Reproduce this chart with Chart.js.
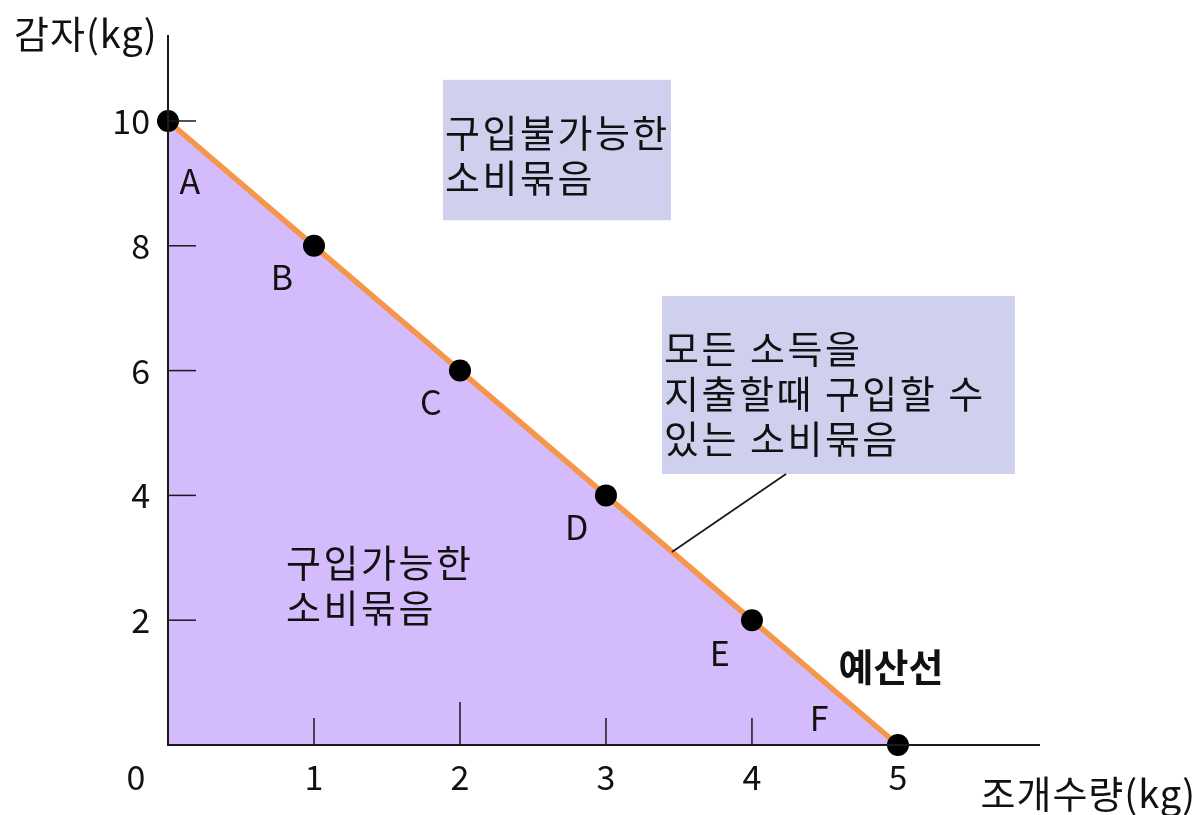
<!DOCTYPE html>
<html>
<head>
<meta charset="utf-8">
<script src="https://cdn.jsdelivr.net/npm/chart.js@4"></script>
<style>
  html, body { margin: 0; padding: 0; background: #fff; }
  #wrap { width: 1204px; height: 815px; }
</style>
</head>
<body>
<div id="wrap"><canvas id="budget"></canvas></div>
<script>
// data
const pointNames = ['A', 'B', 'C', 'D', 'E', 'F'];
const clamQty = [0, 1, 2, 3, 4, 5];      // 조개 (kg)
const potatoQty = [10, 8, 6, 4, 2, 0];   // 감자 (kg)
const xTicks = [1, 2, 3, 4];
const xLabels = [1, 2, 3, 4, 5];
const yTicks = [2, 4, 6, 8, 10];

// label offsets (data units) and text of notes
const nameOffsets = [[0.15, -0.97], [-0.22, -0.5], [-0.2, -0.5], [-0.2, -0.5], [-0.22, -0.52], [-0.54, 0.43]];
const notes = [
  { box: [1.884, 10.66, 3.445, 8.41], lines: ['구입불가능한', '소비묶음'] },
  { box: [3.384, 7.196, 5.801, 4.343], lines: ['모든 소득을', '지출할때 구입할 수', '있는 소비묶음'] },
  { box: [0.795, 3.766, 2.356, 1.603], lines: ['구입가능한', '소비묶음'] }
];

const FONT = "'Noto Sans CJK KR', 'Noto Sans', sans-serif";

const drawing = {
  id: 'drawing',
  beforeDatasetsDraw(chart) {
    const { ctx, scales: { x, y } } = chart;
    ctx.save();
    // note boxes behind the line
    ctx.fillStyle = '#cfcfee';
    notes.forEach(n => {
      const x0 = x.getPixelForValue(n.box[0]), y0 = y.getPixelForValue(n.box[1]);
      const x1 = x.getPixelForValue(n.box[2]), y1 = y.getPixelForValue(n.box[3]);
      ctx.fillRect(x0, y0, x1 - x0, y1 - y0);
    });
    ctx.restore();
  },
  afterDatasetsDraw(chart) {
    const { ctx, scales: { x, y } } = chart;
    const ox = x.getPixelForValue(0), oy = y.getPixelForValue(0);
    ctx.save();
    ctx.strokeStyle = '#1a1a1a';
    ctx.lineWidth = 2;
    ctx.beginPath();
    ctx.moveTo(ox, chart.chartArea.top);
    ctx.lineTo(ox, oy);
    ctx.lineTo(chart.chartArea.right, oy);
    ctx.stroke();

    // ticks pointing inward
    ctx.lineWidth = 1.5;
    xTicks.forEach(v => {
      const px = x.getPixelForValue(v);
      const len = v === 2 ? 43 : 27;
      ctx.beginPath(); ctx.moveTo(px, oy); ctx.lineTo(px, oy - len); ctx.stroke();
    });
    yTicks.forEach(v => {
      const py = y.getPixelForValue(v);
      ctx.beginPath(); ctx.moveTo(ox, py); ctx.lineTo(ox + 28, py); ctx.stroke();
    });

    // tick labels
    ctx.fillStyle = '#111';
    ctx.font = '34px ' + FONT;
    ctx.textBaseline = 'middle';
    ctx.textAlign = 'center';
    xLabels.forEach(v => ctx.fillText(String(v), x.getPixelForValue(v), oy + 32));
    ctx.fillText('0', ox - 32, oy + 32);
    ctx.textAlign = 'right';
    yTicks.forEach(v => ctx.fillText(String(v), ox - 18, y.getPixelForValue(v)));

    // axis titles
    ctx.font = '38px ' + FONT;
    ctx.letterSpacing = '1px';
    ctx.textAlign = 'left';
    ctx.fillText('감자(kg)', 14, 34);
    ctx.textAlign = 'right';
    ctx.fillText('조개수량(kg)', 1196, 794);

    // note text
    ctx.letterSpacing = '2.5px';
    ctx.textAlign = 'left';
    notes.forEach(n => {
      const x0 = x.getPixelForValue(n.box[0]);
      const y0 = y.getPixelForValue(n.box[1]);
      n.lines.forEach((t, i) => ctx.fillText(t, x0 + 2, y0 + 53 + i * 45));
    });
    ctx.letterSpacing = '0px';

    // leader line to the budget line
    ctx.lineWidth = 1.8;
    ctx.beginPath();
    ctx.moveTo(x.getPixelForValue(3.452), y.getPixelForValue(3.093));
    ctx.lineTo(x.getPixelForValue(4.233), y.getPixelForValue(4.343));
    ctx.stroke();

    ctx.font = 'bold 38px ' + FONT;
    ctx.textAlign = 'center';
    ctx.fillText('예산선', x.getPixelForValue(4.952), y.getPixelForValue(1.25));

    // point names
    ctx.font = '34px ' + FONT;
    pointNames.forEach((nm, i) => {
      ctx.fillText(nm, x.getPixelForValue(clamQty[i] + nameOffsets[i][0]),
                       y.getPixelForValue(potatoQty[i] + nameOffsets[i][1]));
    });
    ctx.restore();
  }
};

new Chart(document.getElementById('budget'), {
  type: 'scatter',
  data: {
    datasets: [{
      data: clamQty.map((v, i) => ({ x: v, y: potatoQty[i] })),
      showLine: true,
      fill: 'origin',
      backgroundColor: '#d4bbfb',
      borderColor: '#f5964a',
      borderWidth: 5.5,
      pointRadius: 11,
      pointBackgroundColor: '#000',
      pointBorderColor: '#000',
      pointBorderWidth: 0,
      clip: false
    }]
  },
  options: {
    responsive: true,
    maintainAspectRatio: false,
    animation: false,
    layout: { padding: { left: 168, top: 35, right: 164, bottom: 70 } },
    plugins: { legend: { display: false }, tooltip: { enabled: false } },
    scales: {
      x: { type: 'linear', min: 0, max: 5.973, display: false },
      y: { type: 'linear', min: 0, max: 11.378, display: false }
    }
  },
  plugins: [drawing]
});
</script>
</body>
</html>
